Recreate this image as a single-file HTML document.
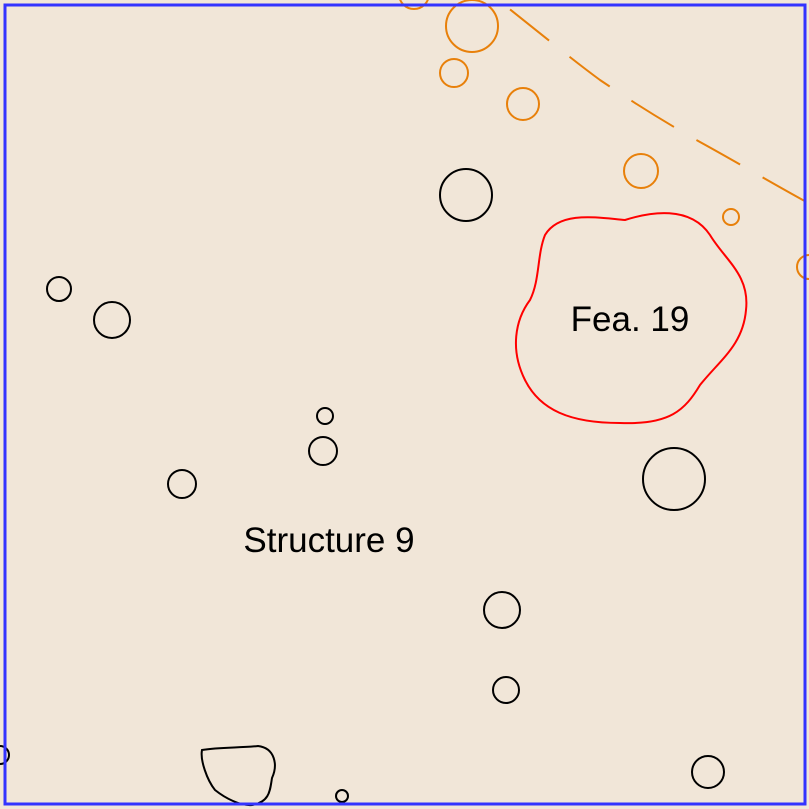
<!DOCTYPE html>
<html><head><meta charset="utf-8"><style>
html,body{margin:0;padding:0;background:#f1e6d8;}
svg{display:block;font-family:"Liberation Sans",sans-serif;}
</style></head><body>
<svg id="map" width="809" height="809" viewBox="0 0 809 809">
<rect x="0" y="0" width="809" height="809" fill="#f1e6d8"/>
<g id="marks"></g>
<path d="M488,-8 C530,25 570,58 600,80 C640,107 670,125 700,142 C740,164 775,185 812,205" fill="none" stroke="#e8800a" stroke-width="2" stroke-dasharray="50,26" stroke-dashoffset="-28"/>
<path d="M545,235 C560,210 600,218 625,220 C650,212 690,205 710,235 C725,260 750,275 746,310 C743,345 720,360 700,385 C685,410 670,425 620,423 C570,423 540,410 525,380 C510,350 515,320 530,300 C540,280 537,255 545,235 Z" fill="none" stroke="#ff0000" stroke-width="2"/>
<path d="M202,750 C220,747 240,748 258,746 C275,748 278,765 272,778 C270,790 270,802 252,805 C240,806 225,798 215,790 C207,780 200,760 202,750 Z" fill="none" stroke="#000" stroke-width="2"/>
<text x="630" y="331" font-size="35" text-anchor="middle" fill="#000">Fea. 19</text>
<text x="329" y="552" font-size="35" text-anchor="middle" fill="#000">Structure 9</text>
<rect x="5" y="5" width="800" height="799" fill="none" stroke="#3333ff" stroke-width="3"/>
</svg>
<script>
const blackX=[466,59,112,325,323,182,674,502,506,708,342,0];
const blackY=[195,289,320,416,451,484,479,610,690,772,796,755];
const blackR=[26,12,18,8,14,14,31,18,13,16,6,9];
const orangeX=[414,472,454,523,641,731,809];
const orangeY=[-6,26,73,104,171,217,267];
const orangeR=[15,26,14,16,17,8,12];
const g=document.getElementById('marks');
const NS='http://www.w3.org/2000/svg';
function draw(xs,ys,rs,color,name){
  for(let i=0;i<xs.length;i++){
    const c=document.createElementNS(NS,'circle');
    c.setAttribute('cx',xs[i]);c.setAttribute('cy',ys[i]);c.setAttribute('r',rs[i]);
    c.setAttribute('fill','none');c.setAttribute('stroke',color);c.setAttribute('stroke-width','2');
    
    
    g.appendChild(c);
  }
}
draw(blackX,blackY,blackR,'#000','posthole');
draw(orangeX,orangeY,orangeR,'#e8800a','orange-posthole');
</script>
</body></html>
